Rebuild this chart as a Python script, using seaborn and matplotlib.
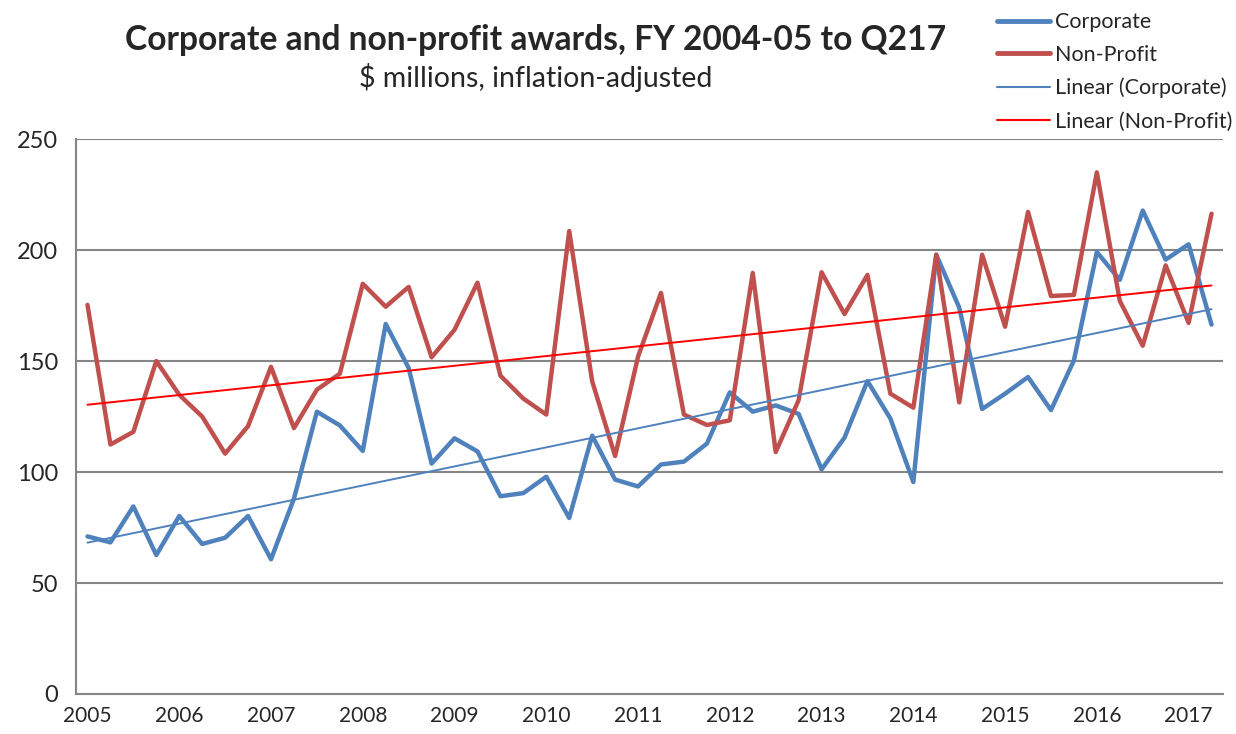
import numpy as np
import pandas as pd
import matplotlib
matplotlib.use("Agg")
import matplotlib.pyplot as plt
import seaborn as sns

# quarterly values, FY 2004-05 Q1 .. FY 2016-17 Q2 ($ millions, inflation-adjusted)
corporate = [
    71.0, 68.3, 84.5, 62.6, 80.2, 67.6, 70.4, 80.2, 60.7, 88.0,
    127.2, 121.0, 109.5, 166.7, 146.9, 103.8, 115.2, 109.3, 89.1, 90.5,
    97.9, 79.3, 116.4, 96.6, 93.5, 103.4, 104.7, 112.8, 135.9, 127.2,
    130.0, 126.2, 101.2, 115.5, 141.0, 124.1, 95.5, 197.9, 174.1, 128.4,
    135.3, 142.8, 127.9, 150.3, 199.1, 186.6, 217.8, 195.7, 202.6, 166.4,
]
non_profit = [
    175.3, 112.4, 118.1, 150.0, 134.8, 125.0, 108.3, 120.7, 147.4, 119.8,
    137.1, 144.3, 184.8, 174.5, 183.4, 151.7, 164.1, 185.3, 143.4, 133.1,
    125.9, 208.6, 140.9, 107.2, 152.0, 180.7, 125.9, 121.2, 123.3, 189.7,
    109.0, 132.4, 190.0, 171.2, 188.8, 135.3, 129.0, 197.9, 131.4, 197.9,
    165.5, 217.2, 179.3, 179.8, 235.0, 177.1, 156.9, 193.1, 167.2, 216.4,
]
year_labels = [str(y) for y in range(2005, 2018)]

quarter = np.arange(len(corporate))
df = pd.DataFrame({
    "quarter": np.concatenate([quarter, quarter]),
    "value": corporate + non_profit,
    "series": ["Corporate"] * len(corporate) + ["Non-Profit"] * len(non_profit),
})

# Excel-style linear trendlines
trend_corp = np.polyval(np.polyfit(quarter, corporate, 1), quarter)
trend_np = np.polyval(np.polyfit(quarter, non_profit, 1), quarter)

sns.set_theme(style="white")
plt.rcParams["font.family"] = ["Lato", "DejaVu Sans"]

fig = plt.figure(figsize=(12.36, 7.34), dpi=100)
ax = fig.add_axes([0.0615, 0.0545, 0.928, 0.756])

sns.lineplot(data=df, x="quarter", y="value", hue="series",
             palette={"Corporate": "#4F81BD", "Non-Profit": "#C0504D"},
             linewidth=3.2, ax=ax, legend=False, zorder=3)
ax.plot(quarter, trend_corp, color="#4F81BD", linewidth=1.4, zorder=4)
ax.plot(quarter, trend_np, color="#FF0000", linewidth=1.4, zorder=4)

ax.set_xlim(-0.5, len(corporate) - 0.5)
ax.set_ylim(0, 250)
ax.set_yticks([0, 50, 100, 150, 200, 250])
ax.set_xticks(np.arange(0, len(corporate), 4))
ax.set_xticklabels(year_labels)
ax.set_xticks(np.arange(-0.5, len(corporate), 1), minor=True)
ax.tick_params(axis="x", which="major", length=0, labelsize=15, pad=9)
ax.tick_params(axis="x", which="minor", length=6, width=1.5, color="#868686", direction="out")
ax.tick_params(axis="y", length=7, width=1.5, color="#868686", direction="out", labelsize=17, pad=6)
ax.grid(axis="y", color="#868686", linewidth=1.5)
ax.set_axisbelow(True)
for s in ["top", "right"]:
    ax.spines[s].set_visible(False)
for s in ["left", "bottom"]:
    ax.spines[s].set_color("#868686")
    ax.spines[s].set_linewidth(1.5)
ax.set_xlabel("")
ax.set_ylabel("")

fig.text(0.433, 0.946, "Corporate and non-profit awards, FY 2004-05 to Q217",
         ha="center", va="center", fontsize=24.2, fontweight="bold")
fig.text(0.433, 0.895, "$ millions, inflation-adjusted",
         ha="center", va="center", fontsize=20.5)

handles = [
    plt.Line2D([], [], color="#4F81BD", linewidth=3.5),
    plt.Line2D([], [], color="#C0504D", linewidth=3.5),
    plt.Line2D([], [], color="#4F81BD", linewidth=1.5),
    plt.Line2D([], [], color="#FF0000", linewidth=1.5),
]
labels = ["Corporate", "Non-Profit", "Linear (Corporate)", "Linear (Non-Profit)"]
fig.legend(handles, labels, loc="upper right", bbox_to_anchor=(1.013, 1.01),
           frameon=False, fontsize=15.5, handlelength=2.45, handletextpad=0.25,
           labelspacing=0.6)

fig.savefig("out.png", dpi=100)
